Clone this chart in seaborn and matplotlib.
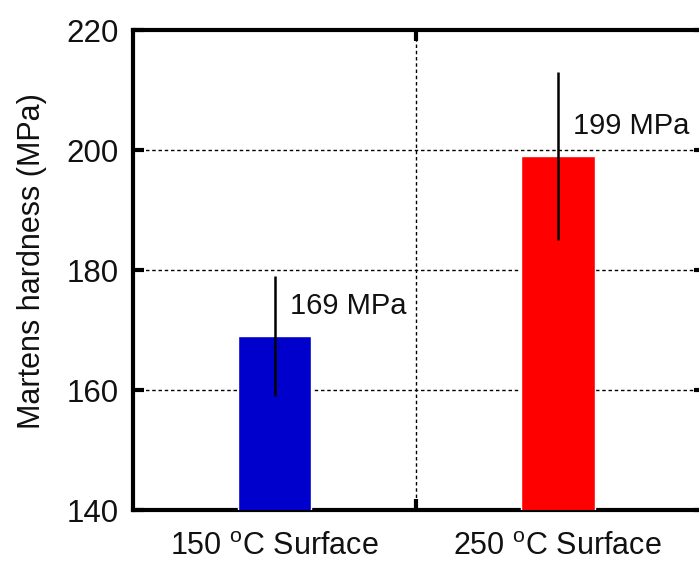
import matplotlib
matplotlib.use("Agg")
import matplotlib.pyplot as plt
import seaborn as sns
import pandas as pd
from matplotlib.ticker import FixedLocator

# Martens hardness of surfaces treated at two temperatures
conditions = ["150 $^{\\mathrm{o}}$C Surface", "250 $^{\\mathrm{o}}$C Surface"]
hardness = [169, 199]
hardness_err = [10, 14]
value_labels = ["169 MPa", "199 MPa"]
bar_colors = ["#0000CC", "#FF0000"]
y_ticks = [140, 160, 180, 200, 220]

sns.set_theme(style="white")
plt.rcParams["font.family"] = ["Liberation Sans", "DejaVu Sans"]
plt.rcParams["mathtext.fontset"] = "custom"
plt.rcParams["mathtext.rm"] = "Liberation Sans"
plt.rcParams["mathtext.it"] = "Liberation Sans:italic"

df = pd.DataFrame({"condition": conditions, "hardness": hardness})

fig = plt.figure(figsize=(6.99, 5.62), dpi=100)
ax = fig.add_axes([133 / 699, 52 / 562, (705 - 133) / 699, (510 - 30) / 562])

sns.barplot(data=df, x="condition", y="hardness", hue="condition",
            palette=bar_colors, width=0.26, saturation=1, legend=False,
            ax=ax, zorder=3)
ax.errorbar(range(len(hardness)), hardness, yerr=hardness_err, fmt="none",
            ecolor="black", elinewidth=1.8, capsize=0, zorder=4)

for i, (v, lab) in enumerate(zip(hardness, value_labels)):
    ax.text(i + 0.055, v + 5, lab, ha="left", va="center", fontsize=21,
            color="#111111", zorder=5)

ax.set_xlim(-0.5, 1.52)
ax.set_ylim(140, 220)
ax.set_yticks(y_ticks)
ax.set_xlabel("")
ax.set_ylabel("Martens hardness (MPa)", fontsize=22, color="#111111")
ax.yaxis.set_label_coords(-0.150, 0.519)

ax.tick_params(axis="y", which="major", direction="in", length=8, width=3,
               labelsize=22.5, left=True, right=True, pad=10, color="black",
               labelcolor="#111111")
ax.tick_params(axis="x", which="major", length=0, labelsize=22, pad=16,
               labelcolor="#111111")
ax.xaxis.set_minor_locator(FixedLocator([0.5]))
ax.tick_params(axis="x", which="minor", direction="in", length=8, width=3,
               bottom=True, top=True, color="black")

ax.grid(False)
ax.yaxis.grid(True, which="major", linestyle=(0, (2.5, 2.0)), linewidth=1.0,
              color="black", zorder=1)
ax.xaxis.grid(True, which="minor", linestyle=(0, (2.5, 2.0)), linewidth=1.0,
              color="black", zorder=1)
ax.set_axisbelow(True)

for side in ["left", "right", "top", "bottom"]:
    ax.spines[side].set_visible(True)
    ax.spines[side].set_linewidth(3)
    ax.spines[side].set_color("black")

fig.savefig("out.png", dpi=100)
